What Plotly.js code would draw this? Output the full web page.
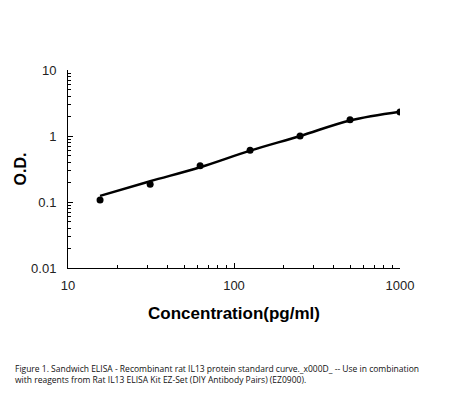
<!DOCTYPE html>
<html>
<head>
<meta charset="utf-8">
<script src="https://cdn.plot.ly/plotly-3.0.1.min.js"></script>
<style>html,body{margin:0;padding:0;background:#fff;}#chart{width:456px;height:393px;}</style>
</head>
<body>
<div id="chart"></div>
<script>
const concentration = [15.6, 31.25, 62.5, 125, 250, 500, 1000];
const od = [0.107, 0.185, 0.355, 0.61, 1.0, 1.77, 2.31];
const fitConc = [15.6, 31.25, 62.5, 125, 250, 500, 1000];
const fitOd = [0.124, 0.206, 0.336, 0.60, 1.0, 1.72, 2.33];
const yTickVals = [0.01, 0.1, 1, 10];
const yTickText = ["0.01", "0.1", "1", "10"];
const xTickVals = [10, 100, 1000];
const xTickText = ["10", "100", "1000"];
const xMinor = [20,30,40,50,60,70,80,90,200,300,400,500,600,700,800,900];
const yMinor = [0.02,0.03,0.04,0.05,0.06,0.07,0.08,0.09,0.2,0.3,0.4,0.5,0.6,0.7,0.8,0.9,2,3,4,5,6,7,8,9];
const caption = "Figure 1. Sandwich ELISA - Recombinant rat IL13 protein standard curve._x000D_ -- Use in combination<br>with reagents from Rat IL13 ELISA Kit EZ-Set (DIY Antibody Pairs) (EZ0900).";

const FONT = 'Arial, "Liberation Sans", sans-serif';
const traces = [
  {x: fitConc, y: fitOd, mode: 'lines', line: {color: '#000', width: 2.5, shape: 'spline'}, hoverinfo: 'skip'},
  {x: concentration, y: od, mode: 'markers', marker: {color: '#000', size: 7}}
];
const layout = {
  width: 456, height: 393,
  margin: {l: 68, r: 56, t: 70, b: 125},
  paper_bgcolor: '#fff', plot_bgcolor: '#fff',
  showlegend: false,
  font: {family: FONT, color: '#222', size: 13},
  xaxis: {
    type: 'log', range: [1, 3],
    tickvals: xTickVals, ticktext: xTickText,
    ticks: 'inside', ticklen: 5, tickcolor: '#000',
    minor: {tickvals: xMinor, ticks: 'inside', ticklen: 3, tickcolor: '#000', showgrid: false},
    showline: true, linecolor: '#000', linewidth: 1,
    showgrid: false, zeroline: false,
    ticklabelstandoff: 5,
    tickfont: {size: 13, color: '#222', family: FONT},
    title: {text: 'Concentration(pg/ml)', font: {size: 17, color: '#000', family: FONT, weight: 'bold'}, standoff: 15}
  },
  yaxis: {
    type: 'log', range: [-2, 1],
    tickvals: yTickVals, ticktext: yTickText,
    ticks: 'inside', ticklen: 5, tickcolor: '#000',
    minor: {tickvals: yMinor, ticks: 'inside', ticklen: 3, tickcolor: '#000', showgrid: false},
    showline: true, linecolor: '#000', linewidth: 1,
    showgrid: false, zeroline: false,
    ticklabelstandoff: 8,
    tickfont: {size: 13, color: '#222', family: FONT},
    title: {text: 'O.D.', font: {size: 16, color: '#000', family: FONT, weight: 'bold'}, standoff: 0}
  },
  annotations: [{
    text: caption, xref: 'paper', yref: 'paper', x: -0.165, y: -0.47,
    xanchor: 'left', yanchor: 'top', align: 'left', showarrow: false,
    font: {size: 8.5, color: '#111', family: '"Open Sans", "Liberation Sans", sans-serif'}
  }]
};
Plotly.newPlot('chart', traces, layout, {displayModeBar: false, staticPlot: true});
</script>
</body>
</html>
